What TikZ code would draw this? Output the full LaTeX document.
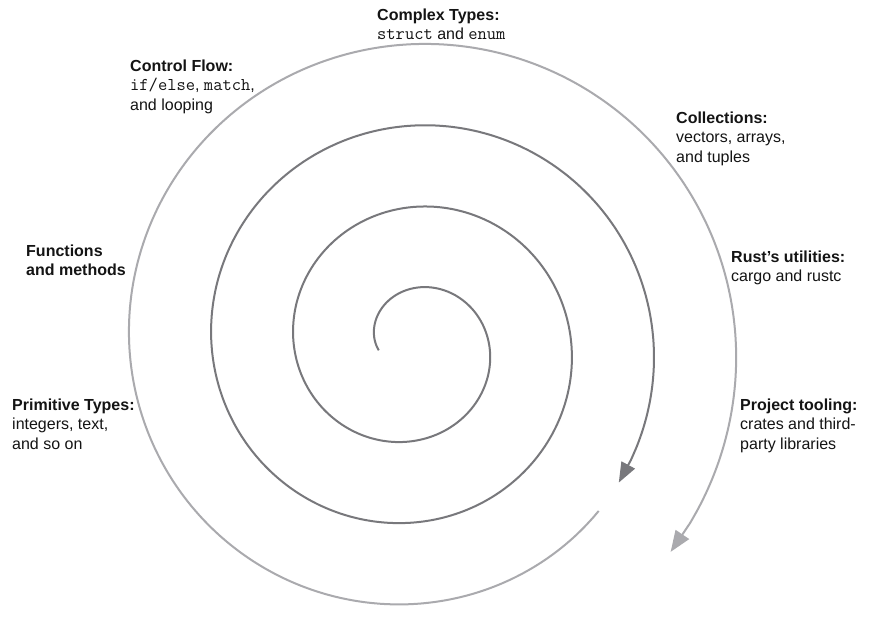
\documentclass[tikz,border=0pt]{standalone}
\usepackage{fontspec}
\setmainfont{Liberation Sans}
\usetikzlibrary{arrows.meta}

\definecolor{spiralDark}{RGB}{120,120,124}
\definecolor{spiralLight}{RGB}{170,170,174}
\definecolor{ink}{RGB}{20,20,20}

% inline code in the labels
\newcommand\code[1]{{\ttfamily\fontsize{18}{19.5}\selectfont #1}}
% Archimedean spiral, angle in degrees, clockwise from the left
\newcommand\spx[1]{412-(36+0.2285*(#1))*cos(#1)}
\newcommand\spy[1]{344.5-0.99*(36+0.2285*(#1))*sin(#1)}

\begin{document}
\begin{tikzpicture}[x=1pt,y=-1pt,
  tag/.style={anchor=north west, inner sep=0pt, align=left,
    font=\fontsize{16}{19.5}\selectfont, text=ink},
  turn/.style={line width=2pt, line cap=butt},
  darkturn/.style={turn, draw=spiralDark,
    -{Triangle[length=20pt,width=15pt]}},
  lightturn/.style={turn, draw=spiralLight,
    -{Triangle[length=21pt,width=16pt]}}]

\fill[white] (0,0) rectangle (870,640);
\useasboundingbox (0,0) rectangle (870,640);

% spiral: inner turns dark, outer turn light
\coordinate (darkTip)    at ({\spx{934}},{\spy{934}});
\coordinate (lightStart) at ({\spx{942}},{\spy{942}});
\coordinate (lightTip)   at ({\spx{1299}},{\spy{1299}});

\draw[darkturn] plot[smooth, samples=260, domain=-10:928, variable=\t]
  ({\spx{\t}},{\spy{\t}}) -- (darkTip);
\draw[lightturn] (lightStart) -- plot[smooth, samples=120, domain=944:1293, variable=\t]
  ({\spx{\t}},{\spy{\t}}) -- (lightTip);

% topic labels
\node[tag] (complex) at (377,6.35)
  {\strut\textbf{Complex Types:}\\\code{struct} and \code{enum}};
\node[tag] (control) at (130,57.35)
  {\strut\textbf{Control Flow:}\\\code{if/else}, \code{match},\\and looping};
\node[tag] (collect) at (676,109.35)
  {\strut\textbf{Collections:}\\vectors, arrays,\\and tuples};
\node[tag] (funcs) at (26,242.35)
  {\strut\textbf{Functions}\\\textbf{and methods}};
\node[tag] (utils) at (731,248.35)
  {\strut\textbf{Rust’s utilities:}\\cargo and rustc};
\node[tag] (prims) at (12,396.35)
  {\strut\textbf{Primitive Types:}\\integers, text,\\and so on};
\node[tag] (tooling) at (740,396.35)
  {\strut\textbf{Project tooling:}\\crates and third-\\party libraries};

\end{tikzpicture}
\end{document}
